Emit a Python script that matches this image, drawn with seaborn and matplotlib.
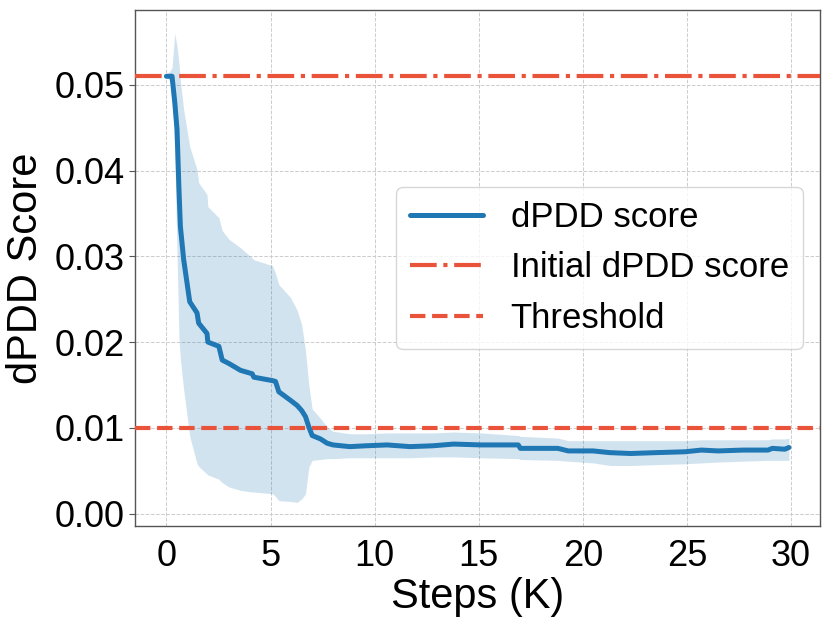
import numpy as np
import pandas as pd
import matplotlib
matplotlib.use("Agg")
import matplotlib.pyplot as plt
import seaborn as sns

# training steps (K) and dPDD score statistics
steps = [0, 0.27, 0.4, 0.51, 0.6, 0.67, 0.83, 1.12, 1.47, 1.55, 1.95, 1.99,
         2.52, 2.68, 3.0, 3.56, 4.12, 4.2, 5.1, 5.24, 5.4, 5.96, 6.28, 6.5,
         6.68, 6.84, 7.0, 7.4, 7.72, 8.0, 8.8, 9.6, 10.6, 11.7, 12.8, 13.8,
         15.1, 16.9, 17.0, 18.8, 19.3, 20.5, 21.3, 22.3, 23.5, 24.9, 25.7,
         26.5, 27.7, 28.9, 29.1, 29.7, 29.9]
score_mean = [0.0510, 0.0510, 0.0480, 0.0448, 0.0380, 0.0335, 0.0296, 0.0247,
              0.0234, 0.0222, 0.0210, 0.0200, 0.0195, 0.0179, 0.0175, 0.0167,
              0.0163, 0.0159, 0.0155, 0.0154, 0.0142, 0.0132, 0.0126, 0.0120,
              0.0113, 0.0101, 0.0091, 0.0087, 0.0082, 0.0080, 0.0078, 0.0079,
              0.0080, 0.0078, 0.0079, 0.0081, 0.0080, 0.0080, 0.0076, 0.0076,
              0.0073, 0.0073, 0.0071, 0.0070, 0.0071, 0.0072, 0.0074, 0.0073,
              0.0074, 0.0074, 0.0076, 0.0075, 0.0077]
score_upper = [0.0510, 0.0520, 0.0560, 0.0545, 0.0526, 0.0505, 0.0471, 0.0428,
               0.0401, 0.0386, 0.0372, 0.0358, 0.0345, 0.0330, 0.0320, 0.0310,
               0.0298, 0.0296, 0.0289, 0.0280, 0.0267, 0.0252, 0.0237, 0.0220,
               0.0190, 0.0150, 0.0122, 0.0111, 0.0101, 0.0096, 0.0093, 0.0093,
               0.0094, 0.0094, 0.0094, 0.0095, 0.0094, 0.0091, 0.0090, 0.0088,
               0.0085, 0.0085, 0.0085, 0.0085, 0.0085, 0.0085, 0.0086, 0.0086,
               0.0086, 0.0086, 0.0087, 0.0087, 0.0088]
score_lower = [0.0510, 0.0500, 0.0420, 0.0304, 0.0206, 0.0180, 0.0144, 0.0090,
               0.0058, 0.0055, 0.0046, 0.0045, 0.0040, 0.0036, 0.0031, 0.0027,
               0.0025, 0.0025, 0.0023, 0.0020, 0.0015, 0.0014, 0.0013, 0.0017,
               0.0023, 0.0054, 0.0062, 0.0063, 0.0064, 0.0064, 0.0065, 0.0065,
               0.0065, 0.0065, 0.0066, 0.0066, 0.0065, 0.0064, 0.0063, 0.0062,
               0.0061, 0.0059, 0.0056, 0.0056, 0.0057, 0.0058, 0.0059, 0.0060,
               0.0061, 0.0062, 0.0062, 0.0062, 0.0062]
initial_score = 0.051
threshold = 0.01
x_ticks = [0, 5, 10, 15, 20, 25, 30]

df = pd.DataFrame({'Steps (K)': steps, 'dPDD Score': score_mean})

sns.set_style("whitegrid", {
    'grid.linestyle': '--',
    'grid.color': '#cccccc',
    'axes.edgecolor': '#555555',
    'text.color': 'black',
    'axes.labelcolor': 'black',
    'xtick.color': 'black',
    'ytick.color': 'black',
})
plt.rcParams['font.family'] = ['Liberation Sans', 'DejaVu Sans']
plt.rcParams['grid.linewidth'] = 0.7

blue = '#1f77b4'
red = '#E8533A'

fig = plt.figure(figsize=(8.3, 6.23), dpi=100)
ax = fig.add_axes([0.163, 0.156, 0.825, 0.828])

ax.fill_between(steps, score_lower, score_upper, color=blue, alpha=0.2, linewidth=0)
sns.lineplot(data=df, x='Steps (K)', y='dPDD Score', ax=ax, color=blue,
             linewidth=3.6, label='dPDD score', zorder=4)
ax.axhline(initial_score, color=red, linestyle='-.', linewidth=3,
           label='Initial dPDD score', zorder=3)
ax.axhline(threshold, color=red, linestyle='--', linewidth=3, label='Threshold',
           zorder=3)

ax.set_xticks(x_ticks)
ax.set_xlabel('Steps (K)', fontsize=30, labelpad=2)
ax.set_ylabel('dPDD Score', fontsize=30, labelpad=6)
ax.tick_params(axis='both', labelsize=26)
ax.tick_params(axis='y', left=True, length=4, color='#555555')
ax.tick_params(axis='x', pad=6)
for s in ax.spines.values():
    s.set_linewidth(1.0)

leg = ax.legend(loc='center right', fontsize=25, frameon=True, handlelength=2.1)
leg.get_frame().set_edgecolor('#cccccc')
leg.set_zorder(5)

fig.savefig('out.png', dpi=100)
